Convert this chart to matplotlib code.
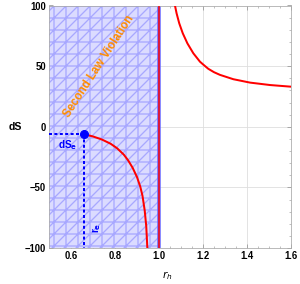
"""Entropy change dS versus horizon radius r_h, with second-law violation region."""
import matplotlib.pyplot as plt
from matplotlib.ticker import MultipleLocator

plt.rcParams['font.family'] = ['Liberation Sans', 'DejaVu Sans']
plt.rcParams['hatch.linewidth'] = 1.3

# values
r_left = [0.659, 0.70, 0.74, 0.78, 0.81, 0.84, 0.86, 0.88, 0.90, 0.915,
          0.925, 0.935, 0.942, 0.947]
ds_left = [-6.2, -8.0, -10.5, -14.0, -17.8, -23.0, -27.8, -33.8, -41.5, -49.5,
           -57, -69, -82, -100]
r_right = [1.073, 1.080, 1.092, 1.108, 1.129, 1.156, 1.186, 1.201, 1.224,
           1.25, 1.277, 1.338, 1.414, 1.505, 1.603]
ds_right = [99.6, 93.5, 85.3, 77.1, 68.8, 60.6, 53.7, 51.3, 47.8,
            45.0, 42.8, 39.2, 36.4, 34.4, 33.0]
r_e = 0.659
ds_e = -6.2
r_violation = [0.5, 1.0]
x_ticks = [0.6, 0.8, 1.0, 1.2, 1.4, 1.6]
y_ticks = [-100, -50, 0, 50, 100]

fig = plt.figure(figsize=(300 / 72, 284 / 72), dpi=72)
ax = fig.add_axes([49 / 300, 36 / 284, 242 / 300, 242.5 / 284])

ax.set_xlim(0.5, 1.6)
ax.set_ylim(-100, 100)

# shaded violation region
ax.fill_between(r_violation, -100, 100, facecolor=(0.86, 0.86, 1.0),
                edgecolor=(0.66, 0.66, 1.0), hatch='+//', linewidth=0, zorder=1)
ax.axvline(1.0, color=(0.4, 0.4, 1.0), lw=3.5, zorder=2)
ax.axvline(1.0, color='red', lw=1.5, zorder=3)

ax.plot(r_left, ds_left, color='red', lw=2, zorder=4)
ax.plot(r_right, ds_right, color='red', lw=2, zorder=4)

ax.plot([0.5, r_e], [ds_e, ds_e], color='blue', lw=2, ls=(0, (1.5, 1.2)), zorder=5)
ax.plot([r_e, r_e], [ds_e, -100], color='blue', lw=2, ls=(0, (1.5, 1.2)), zorder=5)
ax.plot(r_e, ds_e, 'o', color='blue', ms=8, zorder=6)

ax.text(0.585, -15, r'dS$_\mathbf{e}$', color='blue', fontsize=10,
        fontweight='bold', ha='center', va='center')
ax.text(0.717, -83, r'r$_\mathbf{e}$', color='blue', fontsize=10,
        fontweight='bold', ha='center', va='center', rotation=90)
ax.text(0.725, 50, 'Second Law Violation', color=(1.0, 0.55, 0.0),
        fontsize=11.5, fontweight='bold', ha='center', va='center', rotation=57)

ax.set_xticks(x_ticks)
ax.set_yticks(y_ticks)
ax.set_xticklabels(['0.6', '0.8', '1.0', '1.2', '1.4', '1.6'])
ax.set_yticklabels(['\u2212100', '\u221250', '0', '50', '100'])
ax.xaxis.set_minor_locator(MultipleLocator(0.05))
ax.yaxis.set_minor_locator(MultipleLocator(10))
ax.tick_params(which='both', direction='in', top=True, right=True,
               color='#999999', labelsize=9.5, pad=3)
ax.tick_params(which='major', length=4)
ax.tick_params(which='minor', length=2)
for lab in ax.get_xticklabels() + ax.get_yticklabels():
    lab.set_fontweight('bold')

ax.grid(True, which='major', color='#dddddd', lw=0.8, zorder=0)
ax.set_axisbelow(True)
for s in ax.spines.values():
    s.set_color('#aaaaaa')

fig.text(15 / 300, 1 - 127 / 284, 'dS', fontsize=10.5, fontweight='bold',
         ha='center', va='center')
fig.text(167 / 300, 1 - 276 / 284, r'$\mathbf{\mathit{r}_{\mathit{h}}}$', fontsize=10.5,
         ha='center', va='center')

fig.savefig('out.png', dpi=72)
